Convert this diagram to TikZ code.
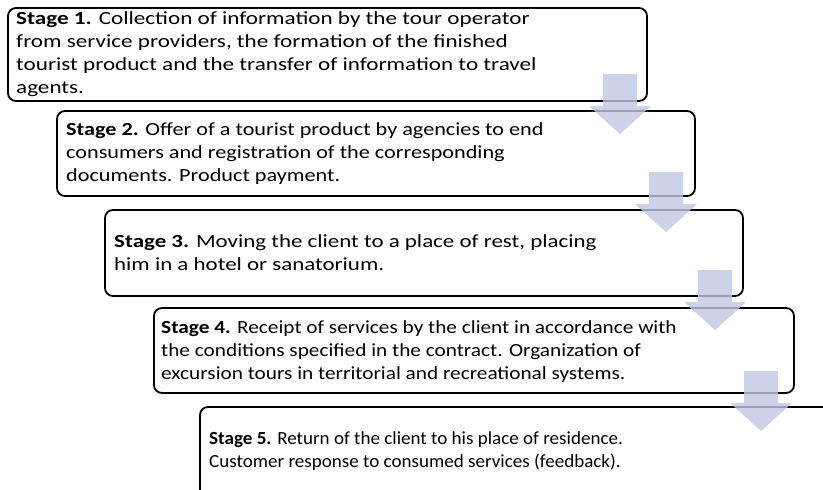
\documentclass[tikz,border=0pt]{standalone}
\usepackage{fontspec}
\setmainfont{Carlito}
\definecolor{arrowfill}{RGB}{192,199,226}
\tikzset{
  stagebox/.style={draw=black, line width=1.8pt, rounded corners=8pt},
  stagetext/.style={anchor=north west, inner sep=0pt, align=left, font=\fontsize{18.5}{23}\selectfont\addfontfeature{FakeStretch=#1}},
  blockarrow/.style={fill=arrowfill, fill opacity=0.8, draw=none}
}
\begin{document}
\begin{tikzpicture}[x=1pt, y=-1pt]
\useasboundingbox (0,0) rectangle (823,490);
\clip (0,0) rectangle (823,490);
% boxes
\draw[stagebox] (8,8) rectangle (647,101);
\draw[stagebox] (57,111) rectangle (695,196);
\draw[stagebox] (105,210) rectangle (743,296);
\draw[stagebox] (154,308) rectangle (794,393);
\draw[stagebox] (200,407) rectangle (840,510);
% texts
\node[stagetext=1.25] (t1) at (16,11) {\textbf{Stage 1.} Collection of information by the tour operator\\from service providers, the formation of the finished\\tourist product and the transfer of information to travel\\agents.};
\node[stagetext=1.20] (t2) at (66,122) {\textbf{Stage 2.} Offer of a tourist product by agencies to end\\consumers and registration of the corresponding\\documents. Product payment.};
\node[stagetext=1.24] (t3) at (114,234) {\textbf{Stage 3.} Moving the client to a place of rest, placing\\him in a hotel or sanatorium.};
\node[stagetext=1.15] (t4) at (161,320) {\textbf{Stage 4.} Receipt of services by the client in accordance with\\the conditions specified in the contract. Organization of\\excursion tours in territorial and recreational systems.};
\node[stagetext=1.03] (t5) at (209,431) {\textbf{Stage 5.} Return of the client to his place of residence.\\Customer response to consumed services (feedback).};
% arrows
\foreach \cx/\ty in {620/74, 666/172, 715/270, 761/371}{
  \fill[blockarrow] (\cx-17,\ty) -- (\cx+17,\ty) -- (\cx+17,\ty+32) -- (\cx+31,\ty+32)
    -- (\cx,\ty+60) -- (\cx-31,\ty+32) -- (\cx-17,\ty+32) -- cycle;
}
\end{tikzpicture}
\end{document}
